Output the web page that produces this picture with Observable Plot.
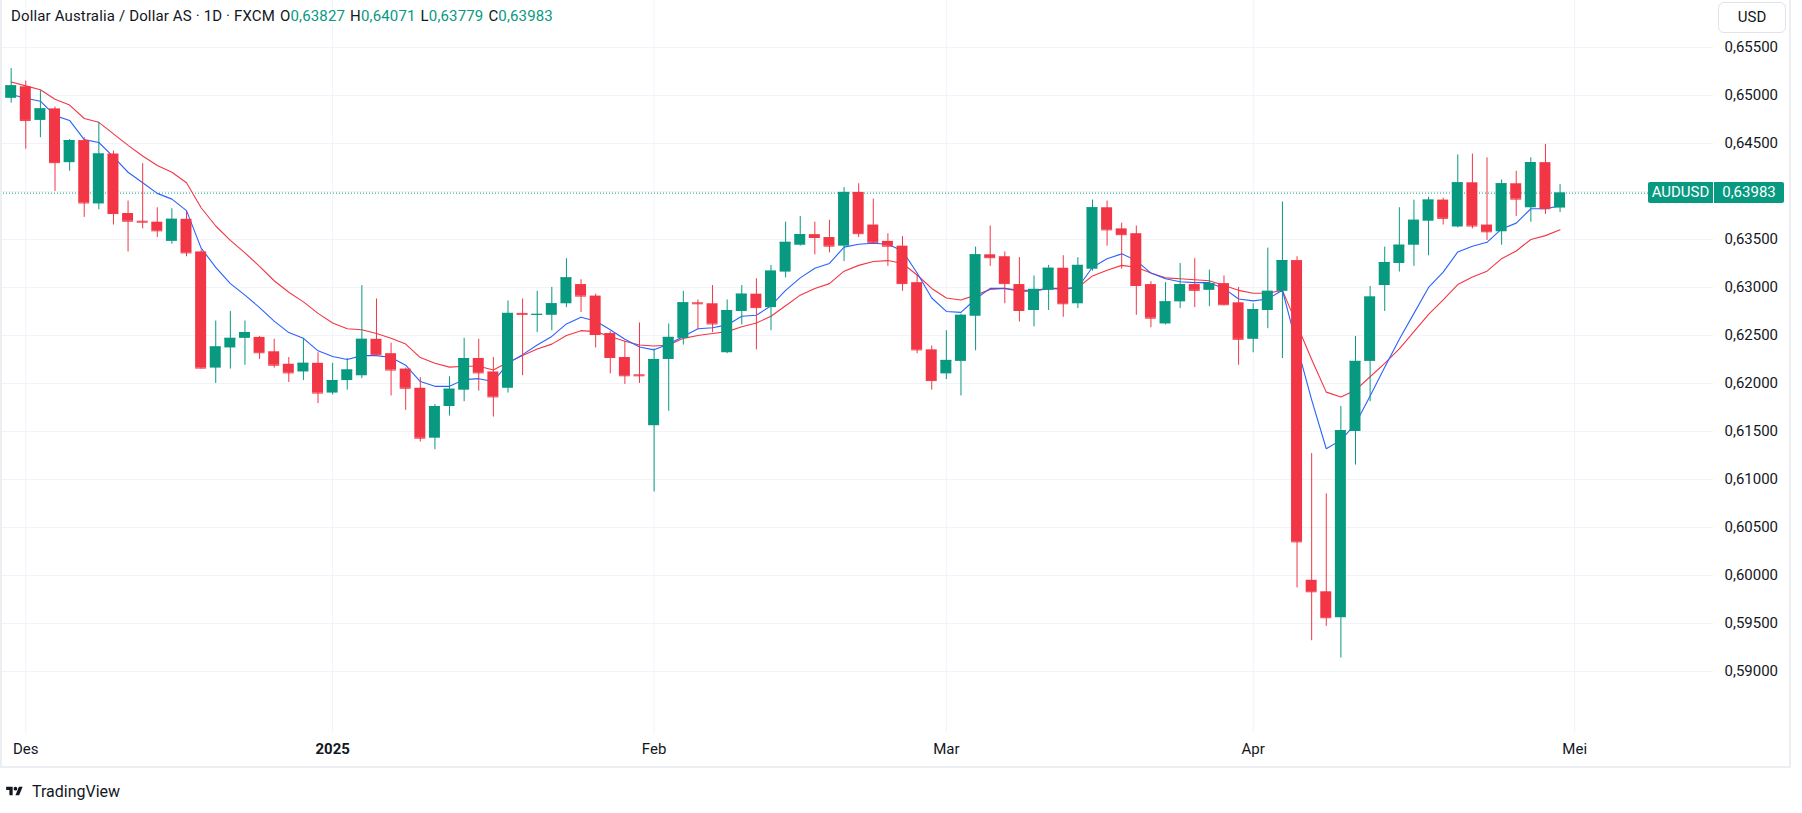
<!DOCTYPE html>
<html>
<head>
<meta charset="utf-8">
<script src="https://cdn.jsdelivr.net/npm/d3@7"></script>
<script src="https://cdn.jsdelivr.net/npm/@observablehq/plot@0.6"></script>
<style>
  html, body { margin: 0; padding: 0; background: #ffffff; }
  body { font-family: Roboto, "Noto Sans", "DejaVu Sans", sans-serif; color: #131722; }
  #wrap { position: relative; width: 1802px; height: 813px; overflow: hidden; }
  #chart { position: absolute; left: 0; top: 0; }
  #frame { position: absolute; left: 0; top: -4px; width: 1791px; height: 772px;
           border-left: 2px solid #eceef1; border-right: 2px solid #eceef1; border-bottom: 2px solid #eceef1; box-sizing: border-box; pointer-events: none; }
  #hdr { position: absolute; left: 11px; top: 6px; font-size: 15px; white-space: pre; line-height: 20px; letter-spacing: 0.15px; }
  #hdr .g { margin-left: 5px; }
  #hdr .v { color: #089981; }
  #usd { position: absolute; left: 1718px; top: 2px; width: 68px; height: 31px; border: 1px solid #e0e3eb;
         border-radius: 6px; box-sizing: border-box; font-size: 15px; line-height: 29px; text-align: center; background: #fff; }
  .plabel { position: absolute; height: 21px; line-height: 21px; font-size: 15px; color: #fff; background: #089981; text-align: center; }
  #logo { position: absolute; left: 2px; top: 783px; height: 17px; display: flex; align-items: center; gap: 5px; font-size: 16px; color: #131722; }
</style>
</head>
<body>
<div id="wrap">
  <div id="chart"></div>
  <div id="frame"></div>
  <div id="hdr"></div>
  <div id="usd">USD</div>
  <div id="logo">
    <svg width="25" height="13" viewBox="0 0 36 28"><path d="M14 22H7V11H0V4h14v18z" fill="#131722"/><circle cx="20" cy="8" r="4" fill="#131722"/><path d="M28 22h-8l7.5-18h8L28 22z" fill="#131722"/></svg>
    <span>TradingView</span>
  </div>
</div>
<script>
// ---- data ----
const dates = [
  "2024-11-29",
  "2024-12-02","2024-12-03","2024-12-04","2024-12-05","2024-12-06",
  "2024-12-09","2024-12-10","2024-12-11","2024-12-12","2024-12-13",
  "2024-12-16","2024-12-17","2024-12-18","2024-12-19","2024-12-20",
  "2024-12-23","2024-12-24","2024-12-26","2024-12-27","2024-12-30","2024-12-31",
  "2025-01-02","2025-01-03",
  "2025-01-06","2025-01-07","2025-01-08","2025-01-09","2025-01-10",
  "2025-01-13","2025-01-14","2025-01-15","2025-01-16","2025-01-17",
  "2025-01-20","2025-01-21","2025-01-22","2025-01-23","2025-01-24",
  "2025-01-27","2025-01-28","2025-01-29","2025-01-30","2025-01-31",
  "2025-02-03","2025-02-04","2025-02-05","2025-02-06","2025-02-07",
  "2025-02-10","2025-02-11","2025-02-12","2025-02-13","2025-02-14",
  "2025-02-17","2025-02-18","2025-02-19","2025-02-20","2025-02-21",
  "2025-02-24","2025-02-25","2025-02-26","2025-02-27","2025-02-28",
  "2025-03-03","2025-03-04","2025-03-05","2025-03-06","2025-03-07",
  "2025-03-10","2025-03-11","2025-03-12","2025-03-13","2025-03-14",
  "2025-03-17","2025-03-18","2025-03-19","2025-03-20","2025-03-21",
  "2025-03-24","2025-03-25","2025-03-26","2025-03-27","2025-03-28","2025-03-31",
  "2025-04-01","2025-04-02","2025-04-03","2025-04-04",
  "2025-04-07","2025-04-08","2025-04-09","2025-04-10","2025-04-11",
  "2025-04-14","2025-04-15","2025-04-16","2025-04-17","2025-04-18",
  "2025-04-21","2025-04-22","2025-04-23","2025-04-24","2025-04-25",
  "2025-04-28","2025-04-29","2025-04-30"
];
const open = [
  0.6497,0.6509,0.6474,0.6486,0.6430,0.6453,0.6387,0.6439,0.6377,0.6369,
  0.6368,0.6348,0.6371,0.6337,0.6216,0.6237,0.6247,0.6248,0.6233,0.6220,
  0.6212,0.6221,0.6190,0.6203,0.6208,0.6246,0.6231,0.6215,0.6195,0.6143,
  0.6176,0.6193,0.6226,0.6212,0.6195,0.6273,0.6271,0.6271,0.6283,0.6303,
  0.6291,0.6252,0.6227,0.6209,0.6156,0.6225,0.6247,0.6284,0.6283,0.6232,
  0.6275,0.6293,0.6279,0.6316,0.6344,0.6355,0.6352,0.6343,0.6399,0.6365,
  0.6348,0.6343,0.6305,0.6235,0.6210,0.6223,0.6270,0.6334,0.6332,0.6303,
  0.6276,0.6297,0.6320,0.6283,0.6319,0.6383,0.6361,0.6356,0.6303,0.6262,
  0.6285,0.6303,0.6297,0.6304,0.6284,0.6246,0.6276,0.6296,0.6328,0.5995,
  0.5983,0.5956,0.6150,0.6223,0.6302,0.6325,0.6344,0.6369,0.6391,0.6363,
  0.6409,0.6365,0.6358,0.6408,0.6383,0.6430,0.63827
];
const high = [
  0.6528,0.6515,0.6505,0.6488,0.6454,0.6456,0.6472,0.6442,0.6390,0.6429,
  0.6383,0.6382,0.6379,0.6339,0.6265,0.6275,0.6265,0.6249,0.6246,0.6227,
  0.6247,0.6232,0.6221,0.6226,0.6302,0.6288,0.6242,0.6216,0.6206,0.6178,
  0.6207,0.6247,0.6246,0.6227,0.6286,0.6288,0.6296,0.6300,0.6330,0.6308,
  0.6293,0.6254,0.6244,0.6263,0.6236,0.6262,0.6296,0.6287,0.6302,0.6287,
  0.6302,0.6309,0.6323,0.6368,0.6374,0.6368,0.6370,0.6404,0.6408,0.6392,
  0.6356,0.6353,0.6313,0.6239,0.6255,0.6272,0.6342,0.6364,0.6337,0.6331,
  0.6312,0.6323,0.6333,0.6331,0.6391,0.6390,0.6367,0.6364,0.6306,0.6305,
  0.6325,0.6330,0.6318,0.6312,0.6300,0.6283,0.6341,0.6389,0.6332,0.6127,
  0.6085,0.6176,0.6249,0.6301,0.6342,0.6383,0.6391,0.6394,0.6393,0.6438,
  0.6439,0.6435,0.6412,0.6421,0.6435,0.6449,0.64071
];
const low = [
  0.6492,0.6444,0.6456,0.6400,0.6421,0.6373,0.6381,0.6365,0.6337,0.6361,
  0.6352,0.6345,0.6332,0.6215,0.6200,0.6215,0.6219,0.6225,0.6216,0.6201,
  0.6203,0.6179,0.6188,0.6193,0.6205,0.6228,0.6187,0.6172,0.6139,0.6131,
  0.6166,0.6181,0.6192,0.6165,0.6190,0.6208,0.6253,0.6255,0.6279,0.6274,
  0.6237,0.6210,0.6199,0.6200,0.6087,0.6171,0.6240,0.6256,0.6253,0.6231,
  0.6261,0.6235,0.6255,0.6310,0.6343,0.6334,0.6336,0.6327,0.6352,0.6345,
  0.6322,0.6296,0.6231,0.6193,0.6204,0.6187,0.6234,0.6322,0.6283,0.6264,
  0.6259,0.6276,0.6269,0.6278,0.6317,0.6343,0.6319,0.6271,0.6258,0.6261,
  0.6278,0.6279,0.6280,0.6281,0.6219,0.6232,0.6257,0.6226,0.5987,0.5932,
  0.5947,0.5914,0.6115,0.6181,0.6275,0.6316,0.6322,0.6333,0.6365,0.6362,
  0.6361,0.6349,0.6344,0.6374,0.6368,0.6376,0.63779
];
const close = [
  0.6510,0.6474,0.6486,0.6430,0.6453,0.6388,0.6439,0.6377,0.6369,0.6368,
  0.6359,0.6371,0.6336,0.6216,0.6238,0.6247,0.6253,0.6232,0.6219,0.6211,
  0.6221,0.6190,0.6203,0.6214,0.6246,0.6230,0.6214,0.6195,0.6143,0.6176,
  0.6194,0.6226,0.6211,0.6186,0.6273,0.6272,0.6272,0.6283,0.6310,0.6291,
  0.6251,0.6227,0.6208,0.6208,0.6225,0.6248,0.6284,0.6283,0.6262,0.6276,
  0.6293,0.6279,0.6317,0.6347,0.6355,0.6352,0.6343,0.6399,0.6356,0.6347,
  0.6343,0.6304,0.6235,0.6203,0.6224,0.6271,0.6334,0.6331,0.6304,0.6276,
  0.6298,0.6320,0.6283,0.6323,0.6383,0.6360,0.6355,0.6302,0.6268,0.6285,
  0.6303,0.6297,0.6304,0.6282,0.6246,0.6277,0.6296,0.6328,0.6035,0.5983,
  0.5956,0.6151,0.6223,0.6290,0.6326,0.6344,0.6370,0.6391,0.6372,0.6409,
  0.6364,0.6358,0.6408,0.6392,0.6430,0.6382,0.63983
];
// fast moving average (blue) and slow moving average (red), as drawn
const maFast = [
  0.6501,0.6497,0.6494,0.6479,0.6474,0.6454,0.6451,0.6436,0.6420,0.6409,
  0.6398,0.6392,0.6380,0.6341,0.6321,0.6304,0.6292,0.6279,0.6265,0.6253,
  0.6247,0.6234,0.6228,0.6225,0.6229,0.6229,0.6227,0.6219,0.6202,0.6197,
  0.6197,0.6204,0.6205,0.6202,0.6221,0.6230,0.6240,0.6249,0.6262,0.6269,
  0.6265,0.6256,0.6246,0.6238,0.6235,0.6241,0.6249,0.6257,0.6258,0.6261,
  0.6270,0.6271,0.6281,0.6297,0.6310,0.6320,0.6325,0.6342,0.6345,0.6346,
  0.6345,0.6338,0.6315,0.6289,0.6275,0.6274,0.6288,0.6299,0.6299,0.6296,
  0.6296,0.6299,0.6299,0.6300,0.6321,0.6330,0.6335,0.6328,0.6315,0.6309,
  0.6306,0.6305,0.6305,0.6299,0.6288,0.6286,0.6288,0.6297,0.6239,0.6183,
  0.6132,0.6141,0.6158,0.6187,0.6217,0.6246,0.6273,0.6300,0.6316,0.6337,
  0.6343,0.6347,0.6361,0.6367,0.6382,0.6382,0.6385
];
const maSlow = [
  0.6514,0.6510,0.6506,0.6496,0.6490,0.6476,0.6472,0.6460,0.6448,0.6437,
  0.6427,0.6420,0.6409,0.6383,0.6364,0.6349,0.6336,0.6322,0.6307,0.6295,
  0.6285,0.6273,0.6263,0.6257,0.6256,0.6252,0.6247,0.6241,0.6227,0.6221,
  0.6217,0.6218,0.6218,0.6214,0.6222,0.6229,0.6236,0.6241,0.6250,0.6255,
  0.6254,0.6249,0.6244,0.6240,0.6239,0.6240,0.6247,0.6250,0.6252,0.6254,
  0.6259,0.6263,0.6270,0.6281,0.6292,0.6299,0.6304,0.6317,0.6323,0.6327,
  0.6328,0.6325,0.6313,0.6299,0.6289,0.6287,0.6292,0.6298,0.6299,0.6297,
  0.6297,0.6299,0.6298,0.6300,0.6312,0.6318,0.6323,0.6321,0.6315,0.6310,
  0.6309,0.6308,0.6307,0.6302,0.6297,0.6294,0.6294,0.6297,0.6261,0.6225,
  0.6191,0.6186,0.6193,0.6207,0.6221,0.6236,0.6254,0.6272,0.6287,0.6303,
  0.6311,0.6317,0.6330,0.6338,0.6350,0.6354,0.6360
];
const priceGrid = [0.655,0.650,0.645,0.640,0.635,0.630,0.625,0.620,0.615,0.610,0.605,0.600,0.595,0.590];
const priceLabels = [0.655,0.650,0.645,0.635,0.630,0.625,0.620,0.615,0.610,0.605,0.600,0.595,0.590];
const monthDates = ["2024-12-02","2025-01-02","2025-02-03","2025-03-03","2025-04-01","2025-05-01"];
const monthLabels = ["Des","2025","Feb","Mar","Apr","Mei"];
const lastPrice = 0.63983;
const symbol = "AUDUSD";
const headerTitle = "Dollar Australia / Dollar AS · 1D · FXCM";

// ---- build tables ----
const UP = "#089981", DOWN = "#f23645";
const candles = dates.map((d, i) => ({
  i, date: d, open: open[i], high: high[i], low: low[i], close: close[i],
  color: close[i] >= open[i] ? UP : DOWN
}));
// index position of each month tick (May 1 lies one slot past the last bar)
const months = monthDates.map((d, k) => {
  let idx = dates.indexOf(d);
  if (idx < 0) idx = dates.length;
  return { idx, label: monthLabels[k], bold: /^\d{4}$/.test(monthLabels[k]) };
});
const maRows = dates.map((d, i) => ({ i, fast: maFast[i], slow: maSlow[i] }));
const fmt = v => v.toFixed(5).replace(".", ",");

const W = 1802, H = 813;
const half = 0.376;
const chart = Plot.plot({
  width: W, height: H,
  marginLeft: 0, marginRight: 89, marginTop: 0, marginBottom: 80,
  x: { type: "linear", domain: [-0.73, 116.5], axis: null },
  y: { domain: [0.58354, 0.65989], axis: null },
  color: { type: "identity" },
  style: { background: "transparent", fontFamily: "Roboto, 'Noto Sans', sans-serif", fontSize: "15px", color: "#131722", overflow: "visible" },
  marks: [
    Plot.ruleY(priceGrid, { stroke: "#f0f3fa", strokeWidth: 1 }),
    Plot.ruleX(months, { x: "idx", stroke: "#f0f3fa", strokeWidth: 1 }),
    Plot.axisY(priceLabels, { anchor: "right", tickSize: 0, tickPadding: 11, tickFormat: fmt, fill: "#131722", fontSize: 15 }),
    Plot.text(months.filter(m => !m.bold), { x: "idx", text: "label", frameAnchor: "bottom", dy: 20, fill: "#131722", fontSize: 15 }),
    Plot.text(months.filter(m => m.bold), { x: "idx", text: "label", frameAnchor: "bottom", dy: 20, fill: "#131722", fontSize: 15, fontWeight: "bold" }),
    Plot.ruleY([lastPrice], { stroke: UP, strokeWidth: 1, strokeDasharray: "1,2" }),
    Plot.line(maRows, { x: "i", y: "slow", stroke: "#f23645", strokeWidth: 1.1 }),
    Plot.line(maRows, { x: "i", y: "fast", stroke: "#2962ff", strokeWidth: 1.1 }),
    Plot.ruleX(candles, { x: "i", y1: "low", y2: "high", stroke: "color", strokeWidth: 1 }),
    Plot.rect(candles, { x1: d => d.i - half, x2: d => d.i + half, y1: "open", y2: "close", fill: "color" }),
    Plot.ruleY(candles, { y: "close", x1: d => d.i - half, x2: d => d.i + half, stroke: "color", strokeWidth: 1 })
  ]
});
document.getElementById("chart").appendChild(chart);

// header with last bar values
const last = candles[candles.length - 1];
document.getElementById("hdr").innerHTML =
  `${headerTitle}<span class="g">O<span class="v">${fmt(last.open)}</span></span><span class="g">H<span class="v">${fmt(last.high)}</span></span><span class="g">L<span class="v">${fmt(last.low)}</span></span><span class="g">C<span class="v">${fmt(last.close)}</span></span>`;

// last-price labels on the price scale
const yPix = chart.scale("y").apply(lastPrice);
const xEnd = chart.scale("x").apply(116.5);
const wrap = document.getElementById("wrap");
const l1 = document.createElement("div");
l1.className = "plabel";
l1.textContent = symbol;
l1.style.left = (xEnd - 65) + "px"; l1.style.width = "65px";
l1.style.top = (yPix - 10.5) + "px";
l1.style.borderRadius = "2px 0 0 2px";
wrap.appendChild(l1);
const l2 = document.createElement("div");
l2.className = "plabel";
l2.textContent = fmt(lastPrice);
l2.style.left = (xEnd + 1) + "px"; l2.style.width = "70px";
l2.style.top = (yPix - 10.5) + "px";
l2.style.borderRadius = "0 2px 2px 0";
wrap.appendChild(l2);
</script>
</body>
</html>
